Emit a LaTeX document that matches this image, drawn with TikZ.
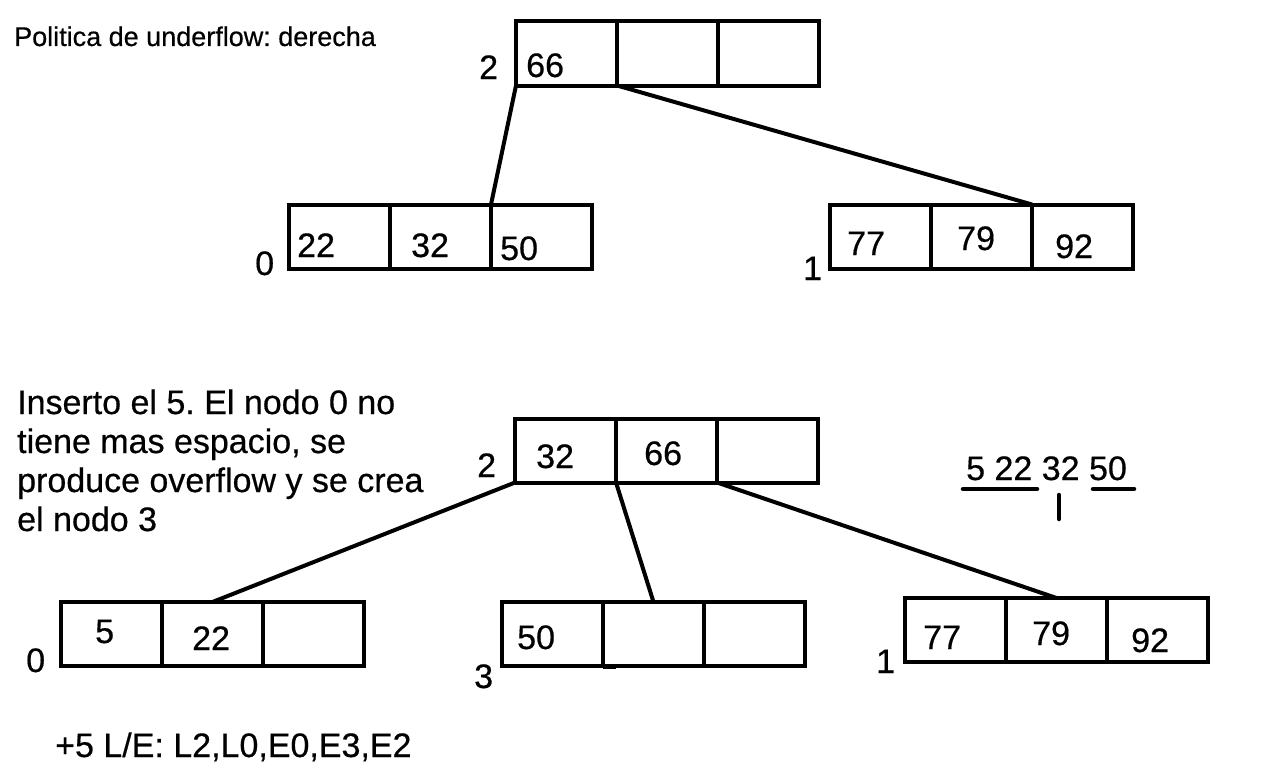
\documentclass[tikz,border=0pt]{standalone}
\usepackage{fontspec}
\setmainfont[FakeBold=0.5]{Liberation Sans}
\frenchspacing
\begin{document}
\begin{tikzpicture}[x=1pt,y=-1pt,
  cell/.style={draw,line width=4pt,minimum width=101pt,minimum height=64pt,inner sep=0pt,outer sep=0pt},
  lbl/.style={anchor=base west,inner sep=0pt,font=\fontsize{34}{39}\selectfont},
  txt/.style={anchor=base west,inner sep=0pt,font=\fontsize{34}{39}\selectfont},
  ttl/.style={anchor=base west,inner sep=0pt,font=\fontsize{27}{32}\selectfont},
  conn/.style={line width=4pt},
  mark line/.style={line width=4.5pt,line cap=round}]
\useasboundingbox (0,0) rectangle (1276,776);

% ---------- top tree ----------
\node[ttl] (title) at (14,46) {Politica de underflow: derecha};

\node[cell] (t2a) at (566.5,53.5) {};
\node[cell] (t2b) at (667.5,53.5) {};
\node[cell] (t2c) at (768.5,53.5) {};
\node[lbl] (t2lab) at (479,79) {2};
\node[lbl] (t2v1) at (526,77) {66};

\node[cell] (t0a) at (339.5,236.5) {};
\node[cell] (t0b) at (440.5,236.5) {};
\node[cell] (t0c) at (541.5,236.5) {};
\node[lbl] (t0lab) at (255,275) {0};
\node[lbl] (t0v1) at (297,257) {22};
\node[lbl] (t0v2) at (411,257) {32};
\node[lbl] (t0v3) at (500,260) {50};

\node[cell] (t1a) at (880.5,236.5) {};
\node[cell] (t1b) at (981.5,236.5) {};
\node[cell] (t1c) at (1082.5,236.5) {};
\node[lbl] (t1lab) at (803,280) {1};
\node[lbl] (t1v1) at (847,255) {77};
\node[lbl] (t1v2) at (957,250) {79};
\node[lbl] (t1v3) at (1055,258) {92};

\draw[conn] (t2a.south west) -- (t0c.north west);
\draw[conn] (t2b.south west) -- (t1c.north west);

% ---------- bottom tree ----------
\node[txt] (txt1) at (17,414) {Inserto el 5. El nodo 0 no};
\node[txt] (txt2) at (17,453) {tiene mas espacio, se};
\node[txt] (txt3) at (17,492) {produce overflow y se crea};
\node[txt] (txt4) at (17,531) {el nodo 3};

\node[cell] (b2a) at (565.5,450.5) {};
\node[cell] (b2b) at (666.5,450.5) {};
\node[cell] (b2c) at (767.5,450.5) {};
\node[lbl] (b2lab) at (477,477) {2};
\node[lbl] (b2v1) at (536,468) {32};
\node[lbl] (b2v2) at (644,465) {66};

\node[cell] (b0a) at (111.5,634) {};
\node[cell] (b0b) at (212.5,634) {};
\node[cell] (b0c) at (313.5,634) {};
\node[lbl] (b0lab) at (26,672) {0};
\node[lbl] (b0v1) at (95,643) {5};
\node[lbl] (b0v2) at (192,650) {22};

\node[cell] (b3a) at (552.5,634) {};
\node[cell] (b3b) at (653.5,634) {};
\node[cell] (b3c) at (754.5,634) {};
\node[lbl] (b3lab) at (474,688) {3};
\node[lbl] (b3v1) at (517,649) {50};
\draw[line width=5pt] (b3b.south west) -- ++(13,0);

\node[cell] (b1a) at (955.5,630) {};
\node[cell] (b1b) at (1056.5,630) {};
\node[cell] (b1c) at (1157.5,630) {};
\node[lbl] (b1lab) at (876,673) {1};
\node[lbl] (b1v1) at (923,649) {77};
\node[lbl] (b1v2) at (1032,645) {79};
\node[lbl] (b1v3) at (1131,652) {92};

\draw[conn] (b2a.south west) -- (b0b.north);
\draw[conn] (b2b.south west) -- (b3b.north);
\draw[conn] (b2c.south west) -- (b1b.north);

% ---------- split annotation ----------
\node[lbl] (seq) at (966,480) {5 22 32 50};
\coordinate (u1a) at (963,489);
\coordinate (u1b) at (1037,489);
\coordinate (u2a) at (1093,489);
\coordinate (u2b) at (1134,489);
\coordinate (tka) at (1059,495);
\coordinate (tkb) at (1059,519);
\draw[mark line] (u1a) -- (u1b);
\draw[mark line] (u2a) -- (u2b);
\draw[mark line] (tka) -- (tkb);

\node[txt] (ops) at (55,757) {+5 L/E: L2,L0,E0,E3,E2};
\end{tikzpicture}
\end{document}
